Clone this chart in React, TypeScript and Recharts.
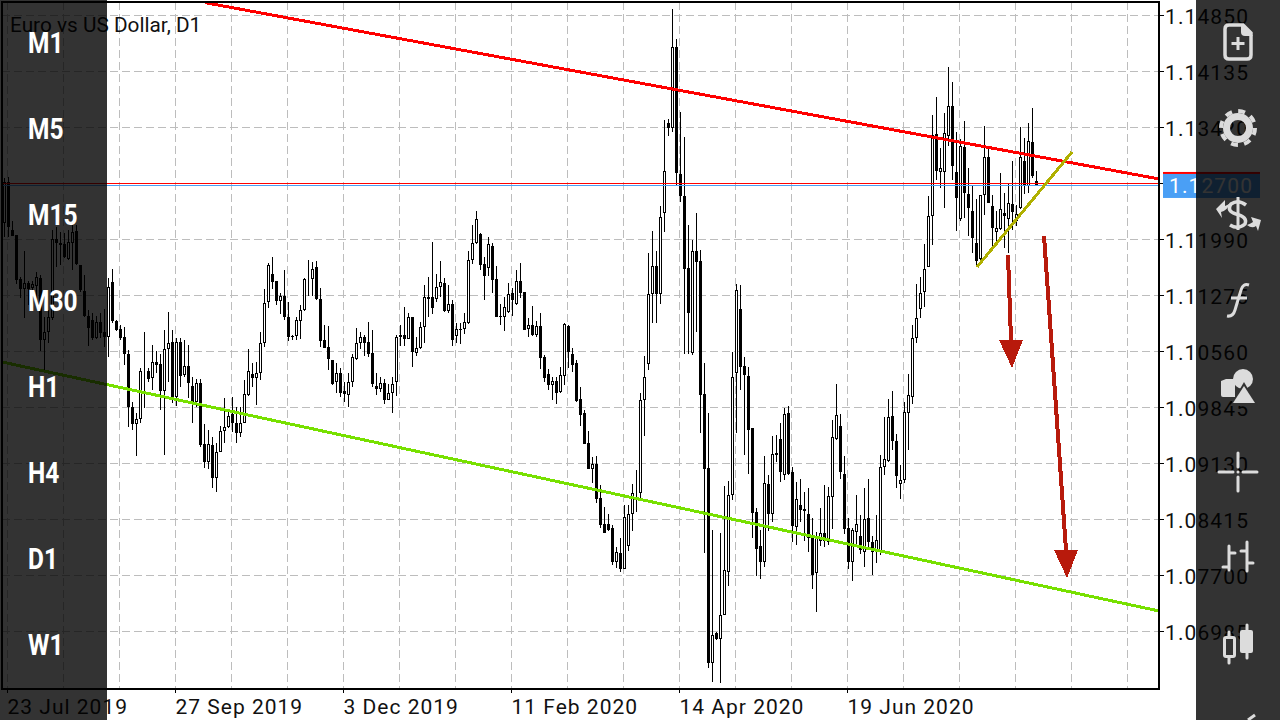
import React from 'react';
import { BarChart, Bar, XAxis, YAxis, CartesianGrid, ReferenceLine, ReferenceDot } from 'recharts';

// quotes are in 1/10000 of a dollar, one value per daily candle
const opens = [
  11221,11273,11212,11205,11149,11136,11144,11138,11140,11150,
  11071,11082,11099,11200,11195,11194,11175,11195,11210,11167,
  11134,11102,11097,11074,11094,11082,11075,11145,11095,11085,
  11075,11053,10986,10964,10970,11030,11032,11023,11043,11041,
  11006,11060,11069,10998,11069,11027,11038,11012,10992,11016,
  10939,10916,10937,10895,10928,10955,10960,10977,10965,10952,
  10965,11001,11028,11023,11029,11067,11120,11156,11147,11121,
  11127,11101,11076,11076,11095,11110,11149,11149,11165,11124,
  11071,11062,11046,11018,11029,11006,11001,11018,11047,11067,
  11075,11069,11055,11012,11009,11016,10995,11004,11018,11075,
  11078,11073,11101,11055,11061,11088,11126,11126,11124,11139,
  11144,11108,11117,11076,11085,11085,11093,11173,11195,11207,
  11168,11163,11191,11149,11102,11101,11107,11131,11117,11147,
  11133,11085,11090,11078,11089,11050,11028,11014,11019,11005,
  11025,11089,11053,11042,10996,10978,10940,10906,10913,10870,
  10836,10836,10831,10788,10799,10779,10808,10849,10876,10876,
  10995,11041,11130,11166,11130,11233,11348,11342,11445,11283,
  11255,11163,11055,11185,11172,11002,10908,10659,10697,10690,
  10720,10775,10873,11029,11111,11038,11025,10959,10852,10808,
  10788,10887,10849,10927,10945,10899,10978,10903,10833,10861,
  10856,10849,10820,10774,10815,10825,10813,10871,10945,10961,
  10900,10831,10788,10826,10821,10801,10844,10813,10801,10801,
  10909,10917,10974,10942,10888,10893,10978,10998,11074,11111,
  11133,11165,11230,11334,11286,11286,11332,11370,11286,11226,
  11318,11258,11236,11195,11175,11256,11305,11242,11209,11213,
  11233,11226,11245,11223,11240,11300,11268,11324,11274,
];
const closes = [
  11273,11216,11204,11148,11136,11144,11136,11143,11152,11071,
  11082,11101,11200,11195,11193,11177,11196,11209,11168,11135,
  11102,11087,11074,11094,11080,11075,11139,11095,11084,11074,
  11053,10986,10964,10970,11032,11032,11021,11043,11039,11006,
  11060,11067,10998,11069,11025,11038,11016,10992,11016,10937,
  10916,10939,10895,10928,10955,10960,10974,10965,10952,10965,
  11002,11032,11023,11029,11067,11118,11167,11145,11121,11127,
  11101,11075,11075,11097,11110,11149,11150,11162,11124,11070,
  11061,11047,11015,11029,11004,11002,11018,11050,11067,11075,
  11067,11053,11015,11009,11016,10995,11004,11015,11075,11078,
  11073,11101,11056,11061,11088,11126,11124,11112,11139,11145,
  11108,11117,11071,11085,11084,11094,11173,11195,11226,11167,
  11153,11194,11148,11101,11101,11113,11130,11122,11147,11131,
  11084,11090,11078,11089,11048,11023,11014,11019,11004,11027,
  11092,11056,11039,10993,10975,10939,10906,10913,10868,10835,
  10825,10829,10788,10801,10779,10845,10849,10876,10877,10995,
  11024,11130,11166,11130,11228,11287,11342,11445,11285,11255,
  11162,11106,11185,11171,11001,10906,10659,10695,10690,10720,
  10778,10873,11024,11135,11037,11027,10956,10850,10804,10788,
  10889,10849,10926,10924,10903,10977,10900,10834,10868,10854,
  10853,10819,10771,10820,10825,10815,10872,10947,10975,10903,
  10830,10788,10829,10836,10803,10843,10813,10801,10816,10909,
  10919,10973,10942,10898,10893,10979,11001,11074,11099,11131,
  11162,11230,11333,11287,11291,11336,11370,11293,11253,11319,
  11259,11240,11201,11172,11256,11305,11246,11214,11214,11239,
  11230,11246,11235,11232,11305,11269,11325,11281,11268,
];
const highs = [
  11278,11279,11223,11205,11152,11185,11147,11147,11158,11154,
  11101,11110,11212,11216,11209,11208,11212,11218,11218,11167,
  11154,11110,11106,11102,11106,11111,11150,11162,11097,11090,
  11088,11059,10992,10978,11036,11082,11036,11065,11057,11053,
  11084,11107,11084,11074,11074,11071,11065,11024,11021,11021,
  10964,10956,10947,10940,10961,10997,10979,10998,10986,10986,
  11020,11060,11042,11043,11082,11136,11170,11177,11147,11131,
  11161,11120,11078,11101,11116,11150,11173,11171,11172,11138,
  11090,11089,11046,11042,11036,11018,11029,11053,11087,11082,
  11078,11094,11084,11029,11024,11021,11015,11024,11078,11090,
  11113,11106,11101,11075,11094,11142,11152,11196,11156,11172,
  11150,11142,11122,11093,11093,11106,11185,11218,11236,11208,
  11177,11203,11195,11166,11117,11126,11144,11138,11161,11170,
  11133,11099,11115,11095,11106,11052,11034,11024,11024,11037,
  11093,11090,11061,11046,11011,10982,10955,10922,10923,10886,
  10858,10849,10835,10807,10819,10861,10861,10888,10905,11004,
  11051,11182,11210,11185,11242,11352,11353,11494,11456,11362,
  11331,11218,11199,11233,11186,11042,10978,10829,10699,10825,
  10885,10891,11056,11143,11142,11050,11037,10959,10857,10829,
  10923,10899,10949,10950,10965,10984,10987,10909,10890,10894,
  10877,10882,10844,10826,10857,10886,10884,10969,11015,10977,
  10923,10844,10831,10873,10848,10882,10894,10821,10848,10924,
  10973,10996,11006,10951,10912,10992,11028,11090,11143,11152,
  11194,11255,11359,11382,11316,11361,11420,11401,11337,11328,
  11351,11291,11269,11251,11256,11345,11316,11256,11236,11285,
  11259,11272,11300,11244,11343,11329,11348,11367,11287,
];
const lows = [
  11203,11203,11204,11143,11125,11099,11116,11112,11115,11057,
  11030,11067,11097,11165,11167,11176,11173,11161,11167,11133,
  11101,11064,11071,11073,11074,11062,11050,11093,11083,11071,
  11039,10960,10956,10923,10965,10984,11018,11007,11029,10982,
  10924,11018,10991,10987,11011,11024,10997,10965,10986,10935,
  10908,10907,10882,10877,10928,10940,10959,10954,10940,10947,
  10965,11000,11011,10988,11020,11062,11112,11136,11116,11104,
  11097,11070,11071,11071,11073,11108,11127,11127,11122,11062,
  11061,11033,11014,11004,10998,10992,10986,11011,11046,11060,
  11051,11050,11011,11001,11005,10990,10995,10978,11000,11064,
  11064,11073,11037,11051,11060,11067,11101,11104,11120,11126,
  11107,11106,11064,11067,11066,11079,11092,11168,11194,11161,
  11122,11153,11131,11101,11090,11083,11106,11102,11116,11125,
  11084,11075,11076,11075,11034,11018,11007,10995,10990,11004,
  11014,11036,11030,10992,10961,10939,10906,10889,10863,10831,
  10825,10827,10784,10780,10775,10779,10802,10827,10852,10867,
  10949,11033,11093,11093,11117,11209,11332,11337,11269,11248,
  11053,11053,11052,11082,10952,10799,10652,10635,10688,10633,
  10720,10757,10867,10952,11007,10924,10900,10819,10770,10766,
  10781,10827,10839,10916,10890,10893,10899,10813,10810,10839,
  10815,10801,10753,10724,10808,10807,10810,10830,10944,10894,
  10824,10779,10764,10810,10798,10782,10806,10771,10787,10797,
  10899,10916,10931,10882,10868,10889,10931,10990,11067,11099,
  11113,11165,11193,11276,11265,11240,11319,11276,11210,11223,
  11227,11204,11182,11165,11173,11231,11246,11190,11195,11212,
  11189,11182,11212,11217,11239,11258,11259,11278,11268,
];

const priceTicks = [1.1485, 1.14135, 1.1342, 1.12705, 1.1199, 1.11275, 1.1056, 1.09845, 1.0913, 1.08415, 1.077, 1.06985];
const currentTick = 1.12705;
const currentLabel = '1.12700';
const bidPrice = 1.12686;
const askPrice = 1.12711;

// the time grid does not sit on a candle, hence the fractions
const gridSlots = [1.875, 15.875, 29.875, 43.875, 57.875, 71.875, 85.875, 99.875, 113.875, 127.875, 141.875, 155.875, 169.875, 183.875, 197.875, 211.875, 225.875, 239.875, 253.875, 267.875, 281.875];
const dateSlots = [1.875, 43.875, 85.875, 127.875, 169.875, 211.875];
const dateLabels = ['23 Jul 2019', '27 Sep 2019', '3 Dec 2019', '11 Feb 2020', '14 Apr 2020', '19 Jun 2020'];

const timeframes = ['M1', 'M5', 'M15', 'M30', 'H1', 'H4', 'D1', 'W1'];

// trend lines, as [slot, price] pairs
const resistance = [[51.25, 1.1502], [289.75, 1.12769]];
const support = [[0.5, 1.10432], [289.75, 1.07253]];
const wedge = [[244.25, 1.11645], [268, 1.13113]];
const shortArrow = [[252, 1.11798], [252.75, 1.10713]];
const longArrow = [[261, 1.12041], [266.5, 1.08032]];

const candles = opens.map((open, i) => ({
  slot: i + 1,
  open: open / 10000,
  close: closes[i] / 10000,
  high: highs[i] / 10000,
  low: lows[i] / 10000,
  range: [lows[i] / 10000, highs[i] / 10000],
}));

const ARROW_RED = '#b81a0c';
const FONT = 'Roboto, sans-serif';

const Candle = (props: any) => {
  const { x, y, width, height, payload } = props;
  const c = Math.round(x + width / 2);
  const perUnit = height / (payload.high - payload.low);
  const top = Math.round(y + (payload.high - Math.max(payload.open, payload.close)) * perUnit);
  const bottom = Math.max(Math.round(y + (payload.high - Math.min(payload.open, payload.close)) * perUnit), top + 1);
  const bull = payload.close >= payload.open;
  return (
    <g shapeRendering="crispEdges">
      <line x1={c + 0.5} x2={c + 0.5} y1={y} y2={y + height} stroke="#000" />
      {bull ? (
        <rect x={c - 0.5} y={top + 0.5} width={2} height={Math.max(bottom - top - 1, 0)} fill="#fff" stroke="#000" />
      ) : (
        <rect x={c - 1} y={top} width={3} height={bottom - top} fill="#000" />
      )}
    </g>
  );
};

const PriceTick = (props: any) => {
  const { y, payload } = props;
  const style = { fontFamily: FONT, fontSize: 21, letterSpacing: 1.1 };
  if (payload.value === currentTick) {
    return (
      <g>
        <rect x={1163} y={y - 10} width={97} height={24} fill="#4a9ff5" />
        <rect x={1163} y={y - 12} width={97} height={2} fill="#ff0000" />
        <text x={1169} y={y + 9} fill="#fff" style={style}>{currentLabel}</text>
      </g>
    );
  }
  return <text x={1165} y={y + 8} fill="#111" style={style}>{payload.value.toFixed(5)}</text>;
};

const DateTick = (props: any) => {
  const { x, y, payload, index } = props;
  return (
    <text x={x} y={y + 19} fill="#111" style={{ fontFamily: FONT, fontSize: 21, letterSpacing: 1 }}>
      {dateLabels[index] ?? payload.value}
    </text>
  );
};

const ArrowHead = (props: any) => {
  const { cx, cy } = props;
  return <polygon points={`${cx - 12},${cy} ${cx + 12},${cy} ${cx + 1},${cy + 28}`} fill={ARROW_RED} shapeRendering="crispEdges" />;
};

const Segment = ({ pts, color, width }: { pts: number[][]; color: string; width: number }) => (
  <ReferenceLine
    segment={[{ x: pts[0][0], y: pts[0][1] }, { x: pts[1][0], y: pts[1][1] }]}
    stroke={color}
    strokeWidth={width}
    ifOverflow="visible"
    shapeRendering="crispEdges"
  />
);

const ToolIcons = () => {
  const ink = '#dcdcdc';
  return (
    <svg width={84} height={720} viewBox="1196 0 84 720" style={{ position: 'absolute', left: 1196, top: 0 }}>
      {/* new chart */}
      <path d="M1229 25 H1243 L1251 33 V55 Q1251 59 1247 59 H1229 Q1225 59 1225 55 V29 Q1225 25 1229 25 Z" fill="none" stroke={ink} strokeWidth={3.5} />
      <path d="M1241 24 L1253 36 H1245 Q1241 36 1241 32 Z" fill={ink} />
      <path d="M1238 37 V50 M1231.500 43.500 H1244.500" stroke={ink} strokeWidth={3} />
      {/* settings */}
      <circle cx={1238} cy={128} r={11.500} fill="none" stroke={ink} strokeWidth={7} />
      <circle cx={1238} cy={128} r={17} fill="none" stroke={ink} strokeWidth={4} strokeDasharray="7 6.300" />
      {/* trade */}
      <path d="M1238 197 V230" stroke={ink} strokeWidth={3} />
      <path d="M1246 205 Q1238 199 1231 204 Q1226 211 1236 214 Q1248 217 1245 224 Q1238 230 1230 225" fill="none" stroke={ink} strokeWidth={3.5} />
      <path d="M1216 209 L1225 200 L1225 206 Q1228 205 1230 203 Q1227 211 1221 212 L1222 218 Z" fill={ink} />
      <path d="M1261 220 L1251 217 L1253 222 Q1250 224 1247 225 Q1252 229 1256 226 L1258 231 Z" fill={ink} />
      {/* indicators */}
      <path d="M1249 285 Q1243 283 1241 290 L1235 310 Q1233 317 1227 316" fill="none" stroke={ink} strokeWidth={3} />
      <path d="M1231 298 H1247" stroke={ink} strokeWidth={3} />
      {/* objects */}
      <path d="M1221 381 L1226 379 H1235 V397 H1223 Q1221 397 1221 395 Z" fill={ink} />
      <circle cx={1243} cy={379} r={10} fill={ink} />
      <path d="M1244 382 L1258 406 H1230 Z" fill="#333333" />
      <path d="M1244 386 L1255 403 H1233 Z" fill={ink} />
      {/* crosshair */}
      <path d="M1238 453 V467 M1238 477 V491 M1219 472 H1233 M1243 472 H1257" stroke={ink} strokeWidth={3} strokeLinecap="round" />
      <circle cx={1238} cy={472} r={1.500} fill={ink} />
      {/* bars */}
      <path d="M1229 546 V570 M1229 553 H1235 M1223 567 H1229 M1247 542 V571 M1241 551 H1247 M1247 563 H1253" stroke={ink} strokeWidth={3} strokeLinecap="round" />
      {/* candles */}
      <path d="M1229 632 V663 M1247 625 V658" stroke={ink} strokeWidth={3} strokeLinecap="round" />
      <rect x={1224.500} y={637.500} width={10} height={19} rx={1.500} fill="#333333" stroke={ink} strokeWidth={3} />
      <rect x={1240} y={630} width={13} height={23} rx={2} fill={ink} />
      {/* next tool, cut off by the screen */}
      <path d="M1248 720 L1255 715" stroke={ink} strokeWidth={3} />
    </svg>
  );
};

export default function App() {
  return (
    <div style={{ position: 'fixed', left: 0, top: 0, width: 1280, height: 720, background: '#fff', overflow: 'hidden', fontFamily: FONT }}>
      <style>{`
        .recharts-cartesian-grid line, .recharts-cartesian-axis-tick-line { shape-rendering: crispEdges; }
        .recharts-reference-line-line { shape-rendering: crispEdges; }
      `}</style>
      <BarChart
        width={1280}
        height={720}
        data={candles}
        margin={{ top: 2, left: 2, right: 0, bottom: 0 }}
        barCategoryGap={0}
      >
        <CartesianGrid
          stroke="#bdbdbd"
          strokeDasharray="8 4"
          verticalValues={gridSlots}
          horizontalValues={priceTicks}
        />
        <XAxis
          dataKey="slot"
          type="number"
          domain={[0.5, 289.75]}
          allowDataOverflow
          ticks={dateSlots}
          interval={0}
          height={32}
          axisLine={false}
          tickSize={5}
          tickLine={{ stroke: '#000' }}
          tick={<DateTick />}
        />
        <YAxis
          orientation="right"
          type="number"
          domain={[1.0627, 1.15028]}
          allowDataOverflow
          ticks={priceTicks}
          interval={0}
          width={121}
          axisLine={false}
          tickSize={5}
          tickLine={{ stroke: '#000' }}
          tick={<PriceTick />}
        />
        <Bar dataKey="range" barSize={3} shape={<Candle />} isAnimationActive={false} />
        <ReferenceLine y={askPrice} stroke="#ff0000" strokeWidth={1} />
        <ReferenceLine y={bidPrice} stroke="#4a9ff5" strokeWidth={1} />
        {Segment({ pts: resistance, color: '#ff0000', width: 3 })}
        {Segment({ pts: support, color: '#77e000', width: 3 })}
        {Segment({ pts: wedge, color: '#b0b000', width: 3 })}
        {Segment({ pts: shortArrow, color: ARROW_RED, width: 4 })}
        {Segment({ pts: longArrow, color: ARROW_RED, width: 4 })}
        <ReferenceDot x={shortArrow[1][0]} y={shortArrow[1][1]} shape={<ArrowHead />} ifOverflow="visible" />
        <ReferenceDot x={longArrow[1][0]} y={longArrow[1][1]} shape={<ArrowHead />} ifOverflow="visible" />
      </BarChart>

      {/* chart frame */}
      <div style={{ position: 'absolute', left: 1, top: 1, width: 1159, height: 689, border: '2px solid #000', boxSizing: 'border-box' }} />
      <div style={{ position: 'absolute', left: 10, top: 13, fontSize: 20.8, lineHeight: '24px', color: '#111' }}>Euro vs US Dollar, D1</div>

      {/* translucent side panels of the app */}
      <div style={{ position: 'absolute', left: 0, top: 0, width: 107, height: 720, background: 'rgba(0,0,0,0.8)' }} />
      <div style={{ position: 'absolute', left: 1196, top: 0, width: 84, height: 720, background: 'rgba(0,0,0,0.8)' }} />
      {timeframes.map((tf, i) => (
        <div
          key={tf}
          style={{
            position: 'absolute',
            left: 28,
            top: 23 + i * 86,
            fontSize: 29.5,
            lineHeight: '40px',
            fontWeight: 700,
            color: '#fff',
            transform: 'scaleX(0.83)',
            transformOrigin: 'left center',
          }}
        >
          {tf}
        </div>
      ))}
      <ToolIcons />
    </div>
  );
}
